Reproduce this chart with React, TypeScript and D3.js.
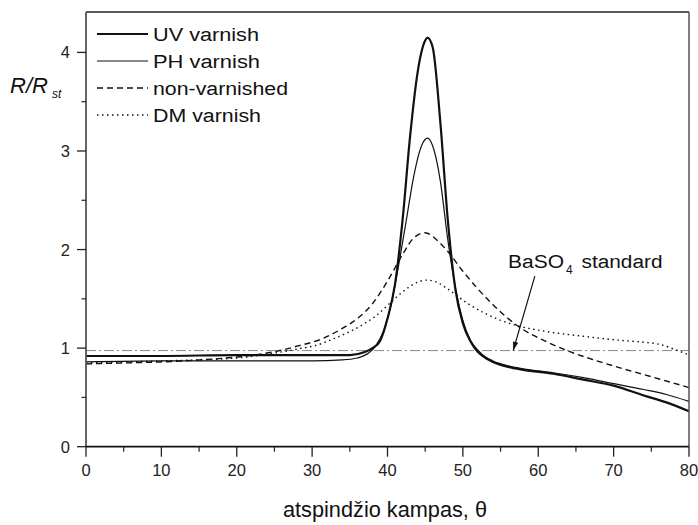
import React from "react";
import * as d3 from "d3";

const uvX = [0, 10, 20, 30, 35, 37, 38, 39, 40, 41, 42, 43, 44, 45, 45.3, 46, 47, 48, 49, 50, 51, 52, 53, 54, 56, 58, 62, 66, 70, 74, 77, 80];
const uvY = [0.92, 0.92, 0.93, 0.93, 0.93, 0.96, 1.0, 1.07, 1.3, 1.65, 2.3, 3.15, 3.8, 4.12, 4.15, 4.05, 3.3, 2.3, 1.6, 1.25, 1.07, 0.96, 0.9, 0.86, 0.81, 0.78, 0.74, 0.68, 0.62, 0.52, 0.45, 0.36];

const phX = [0, 10, 20, 30, 34, 36, 37.5, 38.5, 39.5, 40.5, 41.5, 42.5, 43.5, 44.5, 45.3, 46, 47, 48, 49, 50, 51, 52, 53, 54, 56, 58, 62, 66, 70, 74, 77, 80];
const phY = [0.86, 0.87, 0.87, 0.87, 0.88, 0.9, 0.95, 1.03, 1.18, 1.45, 1.85, 2.3, 2.75, 3.05, 3.13, 3.05, 2.7, 2.1, 1.62, 1.28, 1.08, 0.98, 0.91, 0.87, 0.82, 0.79, 0.75, 0.7, 0.64, 0.58, 0.53, 0.46];

const nonX = [0, 5, 10, 15, 20, 24, 26, 28, 31.5, 34, 36, 38, 40, 42, 43.5, 45, 46.5, 48, 50, 52, 54, 57, 61.5, 64, 67, 70.4, 75, 80];
const nonY = [0.84, 0.85, 0.86, 0.88, 0.91, 0.95, 0.98, 1.02, 1.1, 1.2, 1.3, 1.45, 1.68, 1.95, 2.12, 2.17, 2.1, 1.98, 1.78, 1.6, 1.44, 1.24, 1.05, 0.97, 0.89, 0.81, 0.71, 0.6];

const dmX = [0, 10, 20, 25, 28, 30.6, 33, 36.3, 38.5, 40.8, 42.5, 44, 45.2, 46.5, 48, 50.5, 53, 57.1, 61, 66, 70.8, 74, 76, 78, 80];
const dmY = [0.85, 0.87, 0.9, 0.95, 0.99, 1.03, 1.1, 1.22, 1.33, 1.49, 1.6, 1.67, 1.69, 1.67, 1.6, 1.46, 1.35, 1.23, 1.17, 1.12, 1.08, 1.06, 1.04, 0.99, 0.93];

const stdValue = 0.975;

const xTicks = [0, 10, 20, 30, 40, 50, 60, 70, 80];
const xMinor = [5, 15, 25, 35, 45, 55, 65, 75];
const yTicks = [0, 1, 2, 3, 4];
const yMinor = [0.5, 1.5, 2.5, 3.5];

const legendNames = ["UV varnish", "PH varnish", "non-varnished", "DM varnish"];

export default function App() {
  const x = d3.scaleLinear().domain([0, 80]).range([86, 689]);
  const y = d3.scaleLinear().domain([0, 4.41]).range([446.7, 12]);

  const mk = (xs: number[], ys: number[]) =>
    d3
      .line<number>()
      .x((_, i) => x(xs[i]))
      .y((d) => y(d))
      .curve(d3.curveMonotoneX)(ys) as string;

  const styles = [
    { w: 2.2, dash: "" },
    { w: 1.2, dash: "" },
    { w: 1.4, dash: "6,4" },
    { w: 1.4, dash: "1.5,3.5" },
  ];
  const series = [
    mk(uvX, uvY),
    mk(phX, phY),
    mk(nonX, nonY),
    mk(dmX, dmY),
  ];
  const legendLens = [106, 107, 135, 108];
  const legendRows = [34, 61, 88, 115];

  const font = "Liberation Sans, Arial, sans-serif";

  const ax0 = x(59.55), ay0 = y(1.73), ax1 = x(56.67), ay1 = y(stdValue);

  return (
    <svg
      width={698}
      height={525}
      style={{ position: "absolute", left: 0, top: 0, background: "#fff" }}
      fontFamily={font}
    >
      <defs>
        <marker id="ah" viewBox="0 0 10 10" refX="10" refY="5" markerWidth="9" markerHeight="9" orient="auto" markerUnits="userSpaceOnUse">
          <path d="M0,2 L10,5 L0,8 z" fill="#111" />
        </marker>
      </defs>
      <rect x={0} y={0} width={698} height={525} fill="#fff" />

      <line x1={x(0)} x2={x(80)} y1={y(stdValue)} y2={y(stdValue)} stroke="#888" strokeWidth={1} strokeDasharray="10,3,2,3" />

      {series.map((d, i) => (
        <path key={i} d={d} fill="none" stroke="#111" strokeWidth={styles[i].w} strokeDasharray={styles[i].dash || undefined} />
      ))}

      <line x1={86} x2={689} y1={12} y2={12} stroke="#222" strokeWidth={1.5} />
      <line x1={689} x2={689} y1={12} y2={446.7} stroke="#555" strokeWidth={1.5} />
      <line x1={86} x2={86} y1={12} y2={446.7} stroke="#555" strokeWidth={1.8} />
      <line x1={86} x2={689} y1={446.7} y2={446.7} stroke="#111" strokeWidth={1.8} />

      {xTicks.map((t) => (
        <g key={"xt" + t}>
          <line x1={x(t)} x2={x(t)} y1={446.7} y2={456.7} stroke="#222" strokeWidth={1.3} />
          <text x={x(t)} y={476} textAnchor="middle" fontSize={16.5} fill="#222">{t}</text>
        </g>
      ))}
      {xMinor.map((t) => (
        <line key={"xm" + t} x1={x(t)} x2={x(t)} y1={446.7} y2={451.7} stroke="#222" strokeWidth={1.2} />
      ))}
      {yTicks.map((t) => (
        <g key={"yt" + t}>
          <line x1={77} x2={86} y1={y(t)} y2={y(t)} stroke="#222" strokeWidth={1.3} />
          <text x={70} y={y(t) + 6} textAnchor="end" fontSize={16.5} fill="#222">{t}</text>
        </g>
      ))}
      {yMinor.map((t) => (
        <line key={"ym" + t} x1={81.5} x2={86} y1={y(t)} y2={y(t)} stroke="#222" strokeWidth={1.2} />
      ))}

      {legendNames.map((n, i) => (
        <g key={n}>
          <line x1={97} x2={148} y1={legendRows[i]} y2={legendRows[i]} stroke="#111" strokeWidth={i === 0 ? 1.8 : styles[i].w} strokeDasharray={styles[i].dash || undefined} />
          <text x={153} y={legendRows[i] + 6.5} fontSize={18} fill="#111" textLength={legendLens[i]} lengthAdjust="spacingAndGlyphs">{n}</text>
        </g>
      ))}

      <text x={10} y={93} fontSize={22} fontStyle="italic" fill="#111">R/R</text>
      <text x={52} y={98} fontSize={12} fontStyle="italic" fill="#111">st</text>

      <text x={283} y={517} fontSize={22} fill="#111" textLength={204} lengthAdjust="spacingAndGlyphs">atspindžio kampas, θ</text>

      <text x={508} y={268} fontSize={18} fill="#111" textLength={56} lengthAdjust="spacingAndGlyphs">BaSO</text>
      <text x={566} y={274} fontSize={12} fill="#111">4</text>
      <text x={581.5} y={268} fontSize={18} fill="#111" textLength={81} lengthAdjust="spacingAndGlyphs">standard</text>
      <line x1={ax0} y1={ay0} x2={ax1} y2={ay1} stroke="#111" strokeWidth={1.2} markerEnd="url(#ah)" />
    </svg>
  );
}
